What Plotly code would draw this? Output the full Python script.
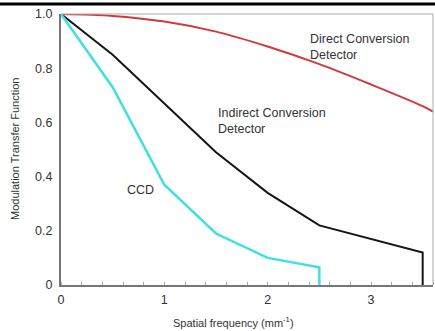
import plotly.graph_objects as go

# Data
direct_freq = [0, 0.5, 1.0, 1.5, 2.0, 2.5, 3.0, 3.5, 3.6]
direct_mtf = [1.0, 0.993, 0.972, 0.935, 0.88, 0.815, 0.74, 0.66, 0.64]

indirect_freq = [0, 0.5, 1.0, 1.5, 2.0, 2.5, 3.5, 3.5]
indirect_mtf = [1.0, 0.85, 0.67, 0.49, 0.34, 0.22, 0.12, 0.0]

ccd_freq = [0, 0.5, 1.0, 1.5, 2.0, 2.5, 2.5]
ccd_mtf = [1.0, 0.73, 0.37, 0.19, 0.10, 0.065, 0.0]

x_ticks = [0, 1, 2, 3]
x_tick_labels = ["0", "1", "2", "3"]
y_ticks = [0, 0.2, 0.4, 0.6, 0.8, 1.0]
y_tick_labels = ["0", "0.2", "0.4", "0.6", "0.8", "1.0"]

font = "Liberation Sans, Arial, sans-serif"
txt = "#333333"

fig = go.Figure()
fig.add_trace(go.Scatter(x=direct_freq, y=direct_mtf, mode="lines",
                         line=dict(color="#d23a3a", width=2, shape="spline"), showlegend=False))
fig.add_trace(go.Scatter(x=indirect_freq, y=indirect_mtf, mode="lines",
                         line=dict(color="#151515", width=2), showlegend=False))
fig.add_trace(go.Scatter(x=ccd_freq, y=ccd_mtf, mode="lines",
                         line=dict(color="#3ee0e0", width=2.5), showlegend=False))

fig.update_layout(
    width=435, height=331,
    margin=dict(l=61, r=2, t=14, b=46, autoexpand=False),
    paper_bgcolor="white", plot_bgcolor="white",
    font=dict(family=font, color=txt, size=12),
    xaxis=dict(range=[0, 3.6], tickvals=x_ticks, ticktext=x_tick_labels,
               showgrid=False, zeroline=False, showline=True, linecolor="#777777", linewidth=2,
               ticks="", tickfont=dict(size=12.5, color=txt), ticklabelstandoff=2,
               minor=dict(ticks="inside", dtick=0.2, ticklen=3, tickcolor="#aaaaaa", showgrid=False)),
    yaxis=dict(range=[0, 1.0], tickvals=y_ticks, ticktext=y_tick_labels,
               showgrid=False, zeroline=False, showline=True, linecolor="#777777", linewidth=2,
               ticks="", tickfont=dict(size=12.5, color=txt), ticklabelstandoff=4),
)

# top/right frame
fig.add_shape(type="line", xref="paper", yref="paper", x0=0, x1=1, y0=1, y1=1,
              line=dict(color="#aaaaaa", width=1))
fig.add_shape(type="line", xref="paper", yref="paper", x0=1, x1=1, y0=0, y1=1,
              line=dict(color="#aaaaaa", width=1))
# thick black bar at top of image
fig.add_shape(type="line", xref="paper", yref="paper", x0=-0.17, x1=1.01, y0=1.037, y1=1.037,
              line=dict(color="black", width=3))

# Axis titles
fig.add_annotation(text="Modulation Transfer Function", xref="paper", yref="paper",
                   x=-0.125, y=0.5, textangle=-90, showarrow=False,
                   font=dict(size=11, color=txt), xanchor="center", yanchor="middle")
fig.add_annotation(text="Spatial frequency (mm<sup>-1</sup>)", xref="paper", yref="paper",
                   x=0.465, y=-0.135, showarrow=False,
                   font=dict(size=11, color=txt), xanchor="center", yanchor="middle")

# Curve labels
fig.add_annotation(text="Direct Conversion<br>Detector", x=2.39, y=0.88, showarrow=False,
                   xanchor="left", yanchor="middle", align="left", font=dict(size=12.5, color=txt))
fig.add_annotation(text="Indirect Conversion<br>Detector", x=1.5, y=0.605, showarrow=False,
                   xanchor="left", yanchor="middle", align="left", font=dict(size=12.5, color=txt))
fig.add_annotation(text="CCD", x=0.62, y=0.35, showarrow=False,
                   xanchor="left", yanchor="middle", align="left", font=dict(size=12.5, color=txt))

fig.write_html("out.html", config={"displayModeBar": False},
               post_script="document.body.style.margin='0px';")
